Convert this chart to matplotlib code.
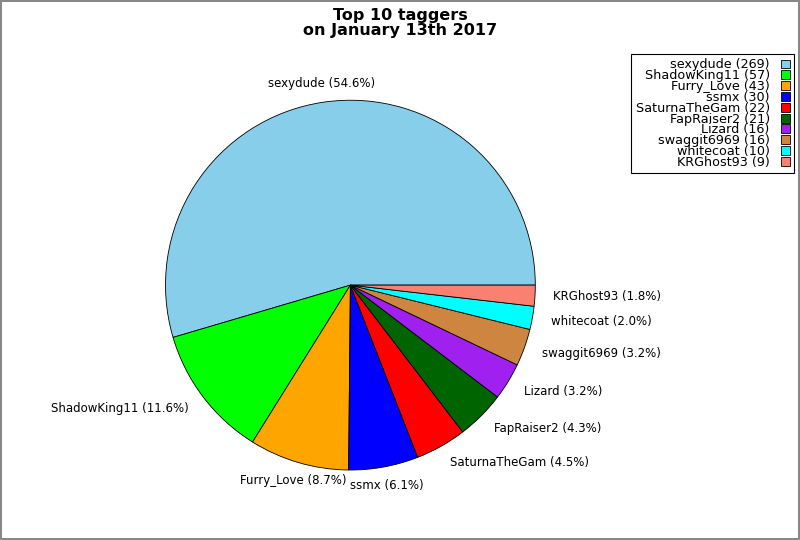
import numpy as np
from matplotlib import pyplot as plt

# top 10 taggers of the day
names = ['sexydude', 'ShadowKing11', 'Furry_Love', 'ssmx', 'SaturnaTheGam',
         'FapRaiser2', 'Lizard', 'swaggit6969', 'whitecoat', 'KRGhost93']
counts = [269, 57, 43, 30, 22, 21, 16, 16, 10, 9]
colors = ['skyblue', 'lime', 'orange', 'blue', 'red',
          'darkgreen', '#A020F0', 'peru', 'cyan', 'salmon']

total = sum(counts)
labels = [f'{n} ({c / total * 100:.1f}%)' for n, c in zip(names, counts)]
legend_labels = [f'{n} ({c})' for n, c in zip(names, counts)]

fig = plt.figure(figsize=(8, 5.4), dpi=100, edgecolor='#888888', linewidth=1.5)
ax = fig.add_axes([0.149, 0.044, 0.578, 0.856])

wedges, texts = ax.pie(counts, labels=labels, colors=colors, startangle=0,
                       wedgeprops={'edgecolor': 'black', 'linewidth': 0.6},
                       textprops={'fontsize': 8.5})

# labels near the vertical are centred
for w, t in zip(wedges, texts):
    ang = np.deg2rad((w.theta1 + w.theta2) / 2)
    if abs(np.cos(ang)) < 0.3:
        t.set_horizontalalignment('center')

fig.suptitle('Top 10 taggers\non January 13th 2017', fontsize=11.5,
             fontweight='bold', y=0.985, linespacing=0.95)

leg = fig.legend(wedges, legend_labels, loc='upper right',
                 bbox_to_anchor=(0.9925, 0.9), fontsize=9.2, markerfirst=False,
                 labelspacing=-0.17, handlelength=0.7, handleheight=0.7,
                 handletextpad=0.85, borderpad=0.35, borderaxespad=0,
                 fancybox=False, edgecolor='black', framealpha=1)
leg.get_frame().set_linewidth(0.8)

fig.savefig('out.png', dpi=100, edgecolor=fig.get_edgecolor())
